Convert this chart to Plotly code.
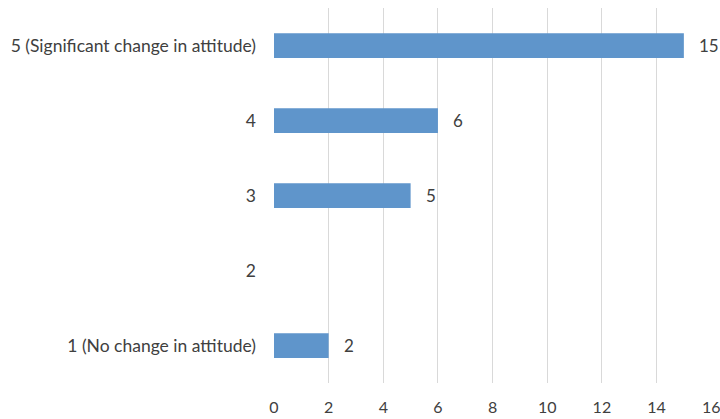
import plotly.graph_objects as go

# Survey responses: degree of attitude change (1 = none, 5 = significant)
categories = [
    "1 (No change in attitude)",
    "2",
    "3",
    "4",
    "5 (Significant change in attitude)",
]
counts = [2, None, 5, 6, 15]
x_ticks = [0, 2, 4, 6, 8, 10, 12, 14, 16]

BAR_COLOR = "#5F95CB"
TEXT_COLOR = "#404040"
FONT = "Lato, Calibri, Arial, sans-serif"
FONT_SIZE = 17.5

fig = go.Figure(
    go.Bar(
        x=counts,
        y=categories,
        orientation="h",
        marker=dict(color=BAR_COLOR, line=dict(width=0)),
        hoverinfo="x+y",
    )
)

# value labels just to the right of each bar end (y given as category index,
# since numeric-looking category names would otherwise be read as positions)
for idx, val in enumerate(counts):
    if val is None:
        continue
    fig.add_annotation(
        x=val, y=idx, text=str(val), showarrow=False,
        xanchor="left", yanchor="middle", xshift=13,
        font=dict(family=FONT, size=17, color=TEXT_COLOR),
    )

fig.update_layout(
    width=720, height=419,
    margin=dict(l=274, r=8, t=8, b=36),
    paper_bgcolor="white", plot_bgcolor="white",
    bargap=0.67,
    showlegend=False,
    font=dict(family=FONT, size=FONT_SIZE, color=TEXT_COLOR),
    xaxis=dict(
        # tiny headroom past 16 so the last gridline and its label are kept
        range=[0, 16.03], tickvals=x_ticks, ticktext=[str(t) for t in x_ticks],
        showgrid=True, gridcolor="#D9D9D9", gridwidth=1,
        zeroline=False, showline=False, ticks="",
        ticklabelstandoff=13, automargin=False,
        ticklabeloverflow="allow",
        tickfont=dict(family=FONT, size=16, color=TEXT_COLOR),
    ),
    yaxis=dict(
        categoryorder="array", categoryarray=categories,
        showgrid=False, zeroline=False, showline=False, ticks="",
        ticklabelstandoff=17, automargin=False,
        tickfont=dict(family=FONT, size=FONT_SIZE, color=TEXT_COLOR),
    ),
)

fig.write_html("out.html")
